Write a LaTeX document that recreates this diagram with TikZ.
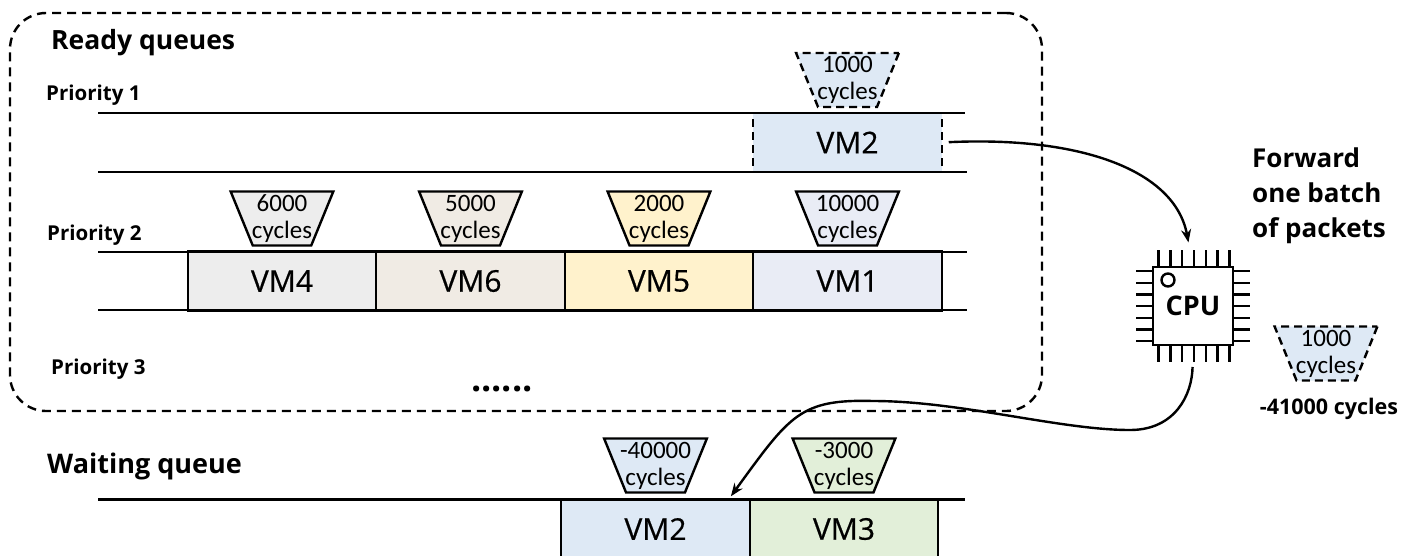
\documentclass[tikz,border=0pt]{standalone}
\usepackage{fontspec}
\setmainfont{Open Sans}
\newfontfamily\cycfont{Carlito}
\newfontfamily\vmfont[FakeBold=0.5]{Open Sans}
\usetikzlibrary{positioning,shapes.geometric,arrows.meta}
\definecolor{vmblue}{HTML}{DEE9F5}
\definecolor{vmgray}{HTML}{EDEDED}
\definecolor{vmtan}{HTML}{F0EBE4}
\definecolor{vmyellow}{HTML}{FFF2CC}
\definecolor{vmlilac}{HTML}{E9ECF5}
\definecolor{vmgreen}{HTML}{E2EFD9}
\newcommand{\cyc}[1]{\hbox to 40pt{\hss\raisebox{-1.5pt}{#1}\hss}\\\hbox to 40pt{\hss\raisebox{-1.5pt}{cycles}\hss}}

\begin{document}
\begin{tikzpicture}[x=1pt, y=-1pt, line width=2.4pt,
    vm/.style = {draw, minimum width=188.5pt, minimum height=59pt, inner sep=0pt, outer sep=0pt, font=\fontsize{30}{32}\selectfont\vmfont},
    slot/.style = {draw, trapezium, shape border rotate=180, trapezium stretches=true, trapezium angle=72.5,
        minimum width=103pt, minimum height=54pt, inner sep=0pt, outer sep=0pt, text width=40pt, align=center,
        font=\fontsize{25}{27}\selectfont\cycfont},
    title/.style = {anchor=west, inner sep=0pt, font=\fontsize{26.5}{30}\selectfont\bfseries},
    prio/.style = {anchor=west, inner sep=0pt, font=\fontsize{20.5}{24}\selectfont\bfseries},
    link/.style = {-{Stealth[length=13pt,width=10pt]}}]
    \useasboundingbox (0,0) rectangle (1405,555);

    \node[draw, dash pattern=on 9pt off 6pt, rounded corners=36pt, minimum width=1032pt, minimum height=398pt, outer sep=0pt] (ready) at (526,212) {};
    \node[title] (readylabel) at (50,43) {Ready queues};
    \node[prio] (prio1) at (45,95) {Priority 1};
    \node[prio] (prio2) at (46,235) {Priority 2};
    \node[prio] (prio3) at (50,369) {Priority 3};
    \node[title, font=\fontsize{27}{30}\selectfont\bfseries] (waitlabel) at (46,466) {Waiting queue};

    % priority 1
    \node[vm, dash pattern=on 8pt off 5pt, fill=vmblue] (vm2) at (847.5,142.5) {VM2};
    \node[slot, dash pattern=on 8pt off 5pt, fill=vmblue, above=6pt of vm2] (slot2) {\cyc{1000}};
    \draw (98,113) -- (965,113);
    \draw (98,172) -- (967,172);

    % priority 2
    \node[vm, fill=vmgray] (vm4) at (282,281) {VM4};
    \node[vm, fill=vmtan, right=0pt of vm4] (vm6) {VM6};
    \node[vm, fill=vmyellow, right=0pt of vm6] (vm5) {VM5};
    \node[vm, fill=vmlilac, right=0pt of vm5] (vm1) {VM1};
    \node[slot, fill=vmgray, above=6pt of vm4] (slot4) {\cyc{6000}};
    \node[slot, fill=vmtan, above=6pt of vm6] (slot6) {\cyc{5000}};
    \node[slot, fill=vmyellow, above=6pt of vm5] (slot5) {\cyc{2000}};
    \node[slot, fill=vmlilac, above=6pt of vm1] (slot1) {\cyc{10000}};
    \draw (98,252) -- (967,252);
    \draw (98,310) -- (967,310);
    \node[font=\fontsize{36}{40}\selectfont\bfseries, inner sep=0pt] (dots) at (502,389) {......};

    % waiting queue
    \node[vm, fill=vmblue] (vm2w) at (655.5,529) {VM2};
    \node[vm, fill=vmgreen, right=0pt of vm2w] (vm3) {VM3};
    \node[slot, fill=vmblue, above=7pt of vm2w] (slot2w) {\cyc{-40000}};
    \node[slot, fill=vmgreen, above=7pt of vm3] (slot3) {\cyc{-3000}};
    \draw (98,499.5) -- (965,499.5);

    % cpu
    \node[draw, minimum width=80pt, minimum height=78pt, inner sep=0pt, outer sep=0pt, font=\fontsize{27}{30}\selectfont\bfseries] (cpu) at (1193,306) {\raisebox{-2pt}{CPU}};
    \draw (1168,280) circle (6.5pt);
    \foreach \i in {0,...,6} {
        \draw (cpu.north west) ++(5.5+\i*11.8,0) -- ++(0,-17);
        \draw (cpu.south west) ++(5.5+\i*11.8,0) -- ++(0,17);
        \draw (cpu.north west) ++(0,4+\i*11.7) -- ++(-17,0);
        \draw (cpu.north east) ++(0,4+\i*11.7) -- ++(17,0);
    }
    \node[slot, dash pattern=on 8pt off 5pt, fill=vmblue] (slotcpu) at (1326,353.5) {\cyc{1000}};
    \node[font=\fontsize{21.5}{24}\selectfont\bfseries, inner sep=0pt] (spent) at (1329,409) {-41000 cycles};
    \node[anchor=west, align=left, inner sep=0pt, font=\fontsize{26}{35}\selectfont\bfseries] (forward) at (1251,196) {Forward\\one batch\\of packets};

    \draw[link, shorten <=7pt, shorten >=25pt] (vm2.east) .. controls (1080,136) and (1175,170) .. (cpu.north);
    \draw[link, shorten <=22pt, shorten >=4pt] (cpu.south) .. controls (1192,395) and (1175,430) .. (1130,430) .. controls (1060,430) and (960,401) .. (873,401) .. controls (800,399) and (790,415) .. (vm2w.22);
\end{tikzpicture}
\end{document}
